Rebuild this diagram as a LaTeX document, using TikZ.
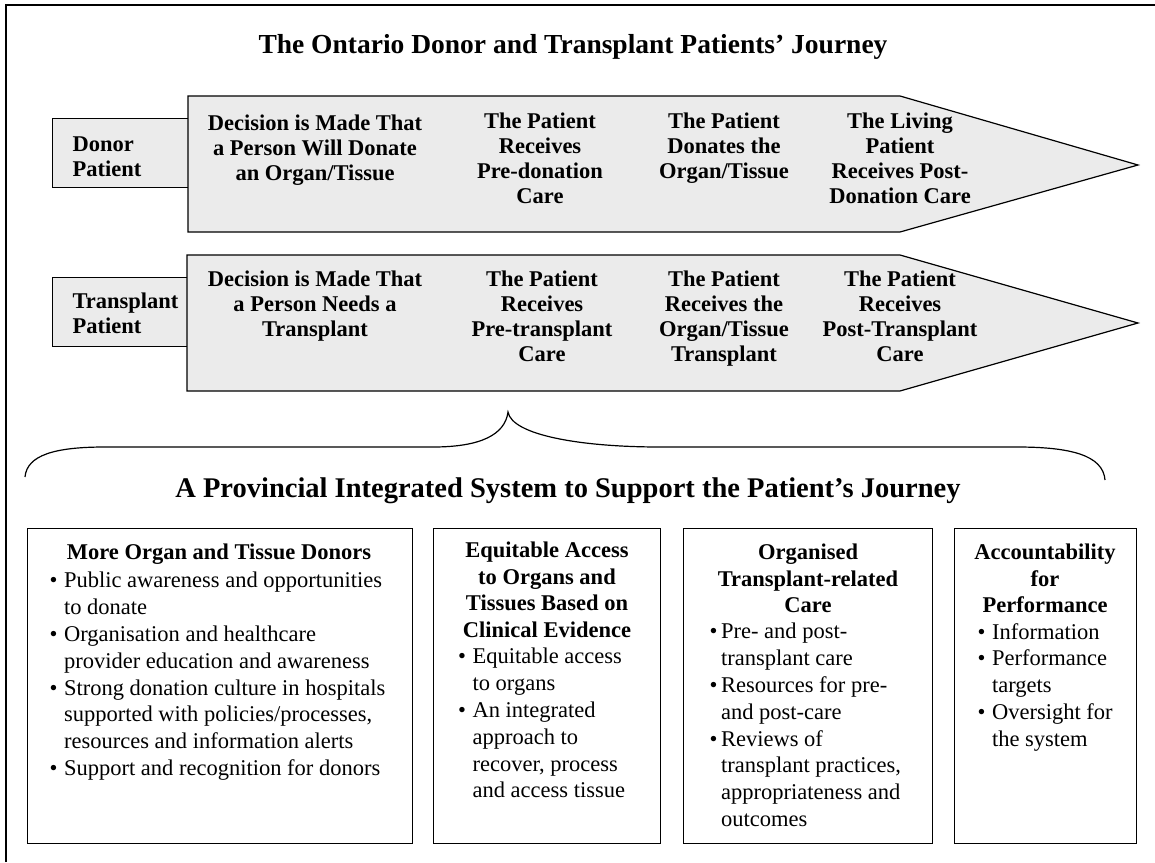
\documentclass[tikz,border=0pt]{standalone}
\usepackage{fontspec}
\setmainfont{Liberation Serif}
\newcommand\bitem{\makebox[14.5pt][l]{\textbullet}}
\newcommand\bcont{\hspace*{14.5pt}}
\begin{document}
\begin{tikzpicture}[x=1pt,y=-1pt,
  line width=1.2pt,
  shade/.style={fill=black!8},
  ttl/.style={font=\fontsize{27.5}{30}\selectfont\bfseries, inner sep=0pt, anchor=base},
  arrtxt/.style={font=\fontsize{22.5}{25}\selectfont\bfseries, align=center, inner sep=0pt, anchor=north},
  lbl/.style={font=\fontsize{22.5}{25}\selectfont\bfseries, align=left, inner sep=0pt, anchor=north west},
  hd/.style={font=\fontsize{22.5}{26.8}\selectfont\bfseries, align=center, inner sep=0pt, anchor=north},
  bullets/.style={font=\fontsize{22.5}{26.8}\selectfont, align=left, inner sep=0pt, anchor=north west},
  boxx/.style={draw, line width=1.2pt, inner sep=0pt, anchor=north west}]

\useasboundingbox (0,0) rectangle (1155,862);
% outer frame (top and left edges)
\draw[line width=1.8pt] (6,862) -- (6,5) -- (1155,5);

\node[ttl] (title) at (573,53) {The Ontario Donor and Transplant Patients’ Journey};

% donor row
\node[boxx, shade, minimum width=136pt, minimum height=69pt] (donorbox) at (52,118) {};
\node[lbl] (donorlbl) at (72,136.6) {Donor\\Patient};
\draw[shade] (188,96) -- (900,96) -- (1138,165) -- (900,232) -- (188,232) -- cycle;
\node[arrtxt] (d1) at (315,114.6) {Decision is Made That\\a Person Will Donate\\an Organ/Tissue};
\node[arrtxt] (d2) at (540,112.6) {The Patient\\Receives\\Pre-donation\\Care};
\node[arrtxt] (d3) at (724,112.6) {The Patient\\Donates the\\Organ/Tissue};
\node[arrtxt] (d4) at (900,112.6) {The Living\\Patient\\Receives Post-\\Donation Care};

% transplant row
\node[boxx, shade, minimum width=135pt, minimum height=69pt] (transbox) at (52,277) {};
\node[lbl] (translbl) at (72,292.6) {Transplant\\Patient};
\draw[shade] (187,255) -- (900,255) -- (1138,323) -- (900,391) -- (187,391) -- cycle;
\node[arrtxt] (t1) at (315,270.6) {Decision is Made That\\a Person Needs a\\Transplant};
\node[arrtxt] (t2) at (542,270.6) {The Patient\\Receives\\Pre-transplant\\Care};
\node[arrtxt] (t3) at (724,270.6) {The Patient\\Receives the\\Organ/Tissue\\Transplant};
\node[arrtxt] (t4) at (900,270.6) {The Patient\\Receives\\Post-Transplant\\Care};

% brace
\draw (25,477) .. controls (27,455) and (55,447) .. (105,447) -- (433,447)
  .. controls (480,447) and (505,435) .. (508,412)
  .. controls (512,435) and (580,447) .. (660,447) -- (1017,447)
  .. controls (1070,447) and (1103,455) .. (1105,480);

\node[ttl, font=\fontsize{28.5}{31}\selectfont\bfseries] (title2) at (568,497) {A Provincial Integrated System to Support the Patient’s Journey};

% bottom boxes
\node[boxx, minimum width=385pt, minimum height=315pt] (box1) at (27,528) {};
\node[boxx, minimum width=227pt, minimum height=315pt] (box2) at (433,528) {};
\node[boxx, minimum width=249pt, minimum height=315pt] (box3) at (683,528) {};
\node[boxx, minimum width=182pt, minimum height=315pt] (box4) at (954,528) {};

\node[hd] (h1) at (219,543) {More Organ and Tissue Donors};
\node[bullets] (b1) at (49,571.6) {\bitem Public awareness and opportunities\\
\bcont to donate\\
\bitem Organisation and healthcare\\
\bcont provider education and awareness\\
\bitem Strong donation culture in hospitals\\
\bcont supported with policies/processes,\\
\bcont resources and information alerts\\
\bitem Support and recognition for donors};

\node[hd] (h2) at (547,541) {Equitable Access\\to Organs and\\Tissues Based on\\Clinical Evidence};
\node[bullets] (b2) at (457.5,647.6) {\bitem Equitable access\\
\bcont to organs\\
\bitem An integrated\\
\bcont approach to\\
\bcont recover, process\\
\bcont and access tissue};

\node[hd] (h3) at (808,543) {Organised\\Transplant-related\\Care};
\node[bullets] (b3) at (709,622.6) {\makebox[11.5pt][l]{\textbullet}Pre- and post-\\
\hspace*{11.5pt}transplant care\\
\makebox[11.5pt][l]{\textbullet}Resources for pre-\\
\hspace*{11.5pt}and post-care\\
\makebox[11.5pt][l]{\textbullet}Reviews of\\
\hspace*{11.5pt}transplant practices,\\
\hspace*{11.5pt}appropriateness and\\
\hspace*{11.5pt}outcomes};

\node[hd] (h4) at (1045,543) {Accountability\\for\\Performance};
\node[bullets] (b4) at (977,622.6) {\bitem Information\\
\bitem Performance\\
\bcont targets\\
\bitem Oversight for\\
\bcont the system};
\end{tikzpicture}
\end{document}
